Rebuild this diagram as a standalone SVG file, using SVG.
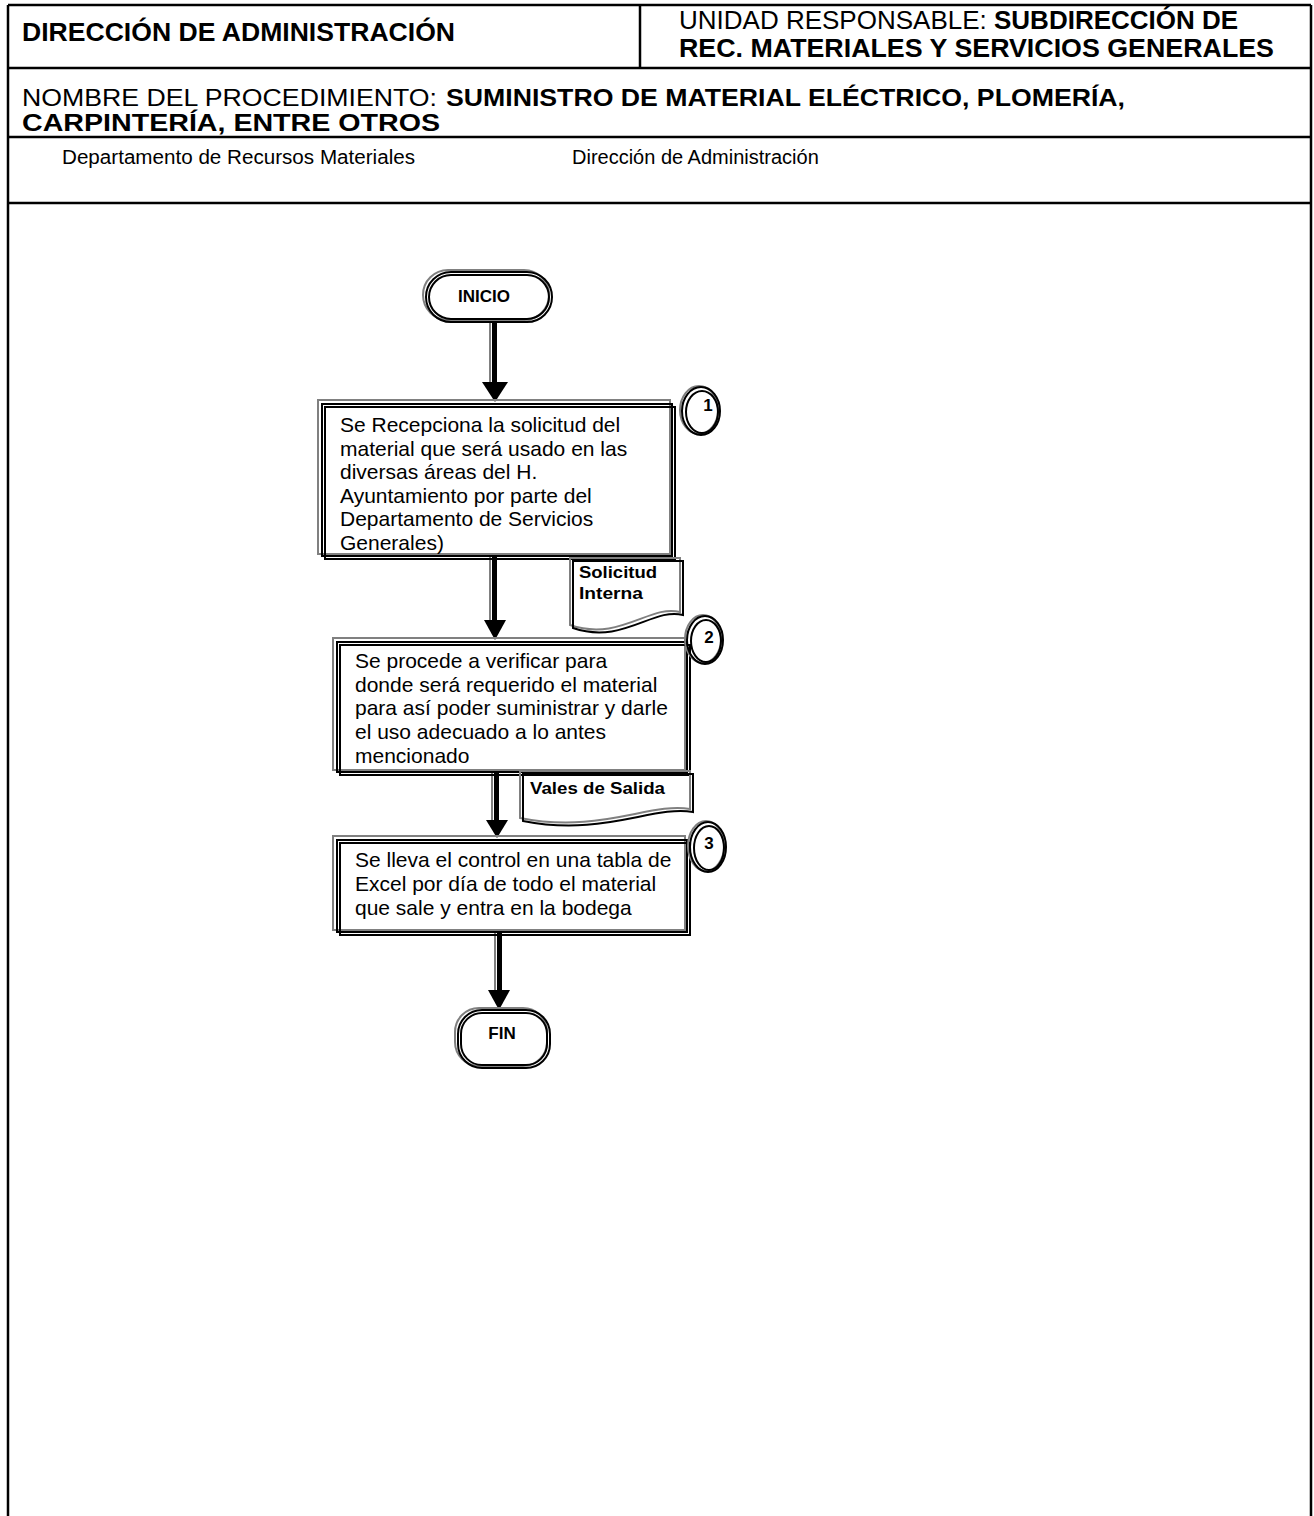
<svg xmlns="http://www.w3.org/2000/svg" width="1314" height="1516" viewBox="0 0 1314 1516">
<defs>
<style>
.frame{fill:none;stroke:#000;stroke-width:2.5}
.h{font-family:"Liberation Sans",Arial,sans-serif;font-size:26px;fill:#000}
.h2{font-family:"Liberation Sans",Arial,sans-serif;font-size:24px;fill:#000}
.b{font-weight:bold}
.lane{font-family:"Liberation Sans",Arial,sans-serif;font-size:20px;fill:#000}
.t{font-family:"Liberation Sans",Arial,sans-serif;font-size:21px;fill:#000}
.tb{font-family:"Liberation Sans",Arial,sans-serif;font-size:17px;font-weight:bold;fill:#000}
.g{fill:none;stroke:#808080;stroke-width:2}
.k{fill:none;stroke:#000;stroke-width:2}
</style>
</defs>
<rect width="1314" height="1516" fill="#fff"/>
<g id="frame">
<line class="frame" x1="8" y1="5" x2="1311" y2="5"/>
<line class="frame" x1="8" y1="68" x2="1311" y2="68"/>
<line class="frame" x1="8" y1="137" x2="1311" y2="137"/>
<line class="frame" x1="8" y1="203" x2="1311" y2="203"/>
<line class="frame" x1="8" y1="5" x2="8" y2="1516"/>
<line class="frame" x1="1311" y1="5" x2="1311" y2="1516"/>
<line class="frame" x1="640" y1="5" x2="640" y2="68"/>
<text class="h b" x="22" y="41" textLength="433" lengthAdjust="spacingAndGlyphs">DIRECCIÓN DE ADMINISTRACIÓN</text>
<text class="h" x="679" y="29">UNIDAD RESPONSABLE: <tspan class="b">SUBDIRECCIÓN DE</tspan></text>
<text class="h b" x="679" y="57" textLength="595" lengthAdjust="spacingAndGlyphs">REC. MATERIALES Y SERVICIOS GENERALES</text>
<text class="h2" x="22" y="106" textLength="415" lengthAdjust="spacingAndGlyphs">NOMBRE DEL PROCEDIMIENTO:</text>
<text class="h2 b" x="446" y="106" textLength="679" lengthAdjust="spacingAndGlyphs">SUMINISTRO DE MATERIAL ELÉCTRICO, PLOMERÍA,</text>
<text class="h2 b" x="22" y="131" textLength="418" lengthAdjust="spacingAndGlyphs">CARPINTERÍA, ENTRE OTROS</text>
<text class="lane" x="62" y="164" textLength="353" lengthAdjust="spacingAndGlyphs">Departamento de Recursos Materiales</text>
<text class="lane" x="572" y="164">Dirección de Administración</text>
</g>
<g id="connectors">
<g id="a1"><rect x="489" y="322" width="2" height="62" fill="#808080"/><rect x="492" y="322" width="5" height="62" fill="#000"/><polygon points="482,382 508,382 495,402" fill="#000"/></g>
<g id="a2"><rect x="489" y="556" width="2" height="66" fill="#808080"/><rect x="492" y="556" width="5" height="66" fill="#000"/><polygon points="484,620 506,620 495,640" fill="#000"/></g>
<g id="a3"><rect x="491" y="772" width="2" height="50" fill="#808080"/><rect x="494" y="772" width="5" height="50" fill="#000"/><polygon points="486,820 508,820 497,838" fill="#000"/></g>
<g id="a4"><rect x="494" y="932" width="2" height="60" fill="#808080"/><rect x="497" y="932" width="5" height="60" fill="#000"/><polygon points="488,990 510,990 499,1010" fill="#000"/></g>
</g>
<g id="inicio">
<rect x="423" y="270" width="126" height="50" rx="25" class="g"/>
<rect x="426" y="272" width="126" height="50" rx="25" class="k"/>
<rect x="429" y="275" width="120" height="44" rx="22" class="k" stroke-width="1"/>
<text class="tb" x="484" y="302" text-anchor="middle" font-size="19">INICIO</text>
</g>
<g id="step1">
<rect x="318" y="400" width="352" height="154" class="g"/>
<rect x="322" y="404" width="350" height="152" class="k"/>
<rect x="325" y="407" width="350" height="152" class="k" stroke-width="1.5"/>
<text class="t" x="340" y="432">Se Recepciona la solicitud del</text>
<text class="t" x="340" y="455.6">material que será usado en las</text>
<text class="t" x="340" y="479.2">diversas áreas del H.</text>
<text class="t" x="340" y="502.8">Ayuntamiento por parte del</text>
<text class="t" x="340" y="526.4">Departamento de Servicios</text>
<text class="t" x="340" y="550">Generales)</text>
</g>
<g id="c1">
<ellipse cx="699" cy="410" rx="19" ry="24" class="g"/>
<ellipse cx="701" cy="411" rx="19" ry="24" class="k"/>
<ellipse cx="702" cy="412" rx="16" ry="21" class="k" stroke-width="1"/>
<text class="tb" x="708" y="411" text-anchor="middle">1</text>
</g>
<g id="doc1">
<path d="M570,558 H680 V612 C650,604 620,642 570,625 Z" class="g"/>
<path d="M573,561 H683 V615 C653,607 623,645 573,628 Z" fill="#fff" class="k"/>
<text class="tb" x="579" y="578" textLength="78" lengthAdjust="spacingAndGlyphs">Solicitud</text>
<text class="tb" x="579" y="599" textLength="64" lengthAdjust="spacingAndGlyphs">Interna</text>
</g>
<g id="step2">
<rect x="333" y="638" width="352" height="132" class="g"/>
<rect x="337" y="642" width="350" height="130" class="k"/>
<rect x="340" y="645" width="350" height="130" class="k" stroke-width="1.5"/>
<text class="t" x="355" y="668">Se procede a verificar para</text>
<text class="t" x="355" y="691.7">donde será requerido el material</text>
<text class="t" x="355" y="715.4">para así poder suministrar y darle</text>
<text class="t" x="355" y="739">el uso adecuado a lo antes</text>
<text class="t" x="355" y="762.7">mencionado</text>
</g>
<g id="c2">
<ellipse cx="703" cy="639" rx="18" ry="24" class="g"/>
<ellipse cx="705" cy="640" rx="18" ry="24" class="k"/>
<ellipse cx="706" cy="641" rx="15" ry="21" class="k" stroke-width="1"/>
<text class="tb" x="709" y="643" text-anchor="middle">2</text>
</g>
<g id="doc2">
<path d="M520,771 H690 V809 C650,802 600,834 520,818 Z" class="g"/>
<path d="M523,774 H693 V812 C653,805 603,837 523,821 Z" fill="#fff" class="k"/>
<text class="tb" x="530" y="794" textLength="135" lengthAdjust="spacingAndGlyphs">Vales de Salida</text>
</g>
<g id="step3">
<rect x="333" y="836" width="352" height="94" class="g"/>
<rect x="337" y="840" width="350" height="92" class="k"/>
<rect x="340" y="843" width="350" height="92" class="k" stroke-width="1.5"/>
<text class="t" x="355" y="867">Se lleva el control en una tabla de</text>
<text class="t" x="355" y="891">Excel por día de todo el material</text>
<text class="t" x="355" y="915">que sale y entra en la bodega</text>
</g>
<g id="c3">
<ellipse cx="706" cy="846" rx="18" ry="25" class="g"/>
<ellipse cx="708" cy="847" rx="18" ry="25" class="k"/>
<ellipse cx="709" cy="848" rx="15" ry="22" class="k" stroke-width="1"/>
<text class="tb" x="709" y="849" text-anchor="middle">3</text>
</g>
<g id="fin">
<rect x="455" y="1008" width="92" height="58" rx="24" class="g"/>
<rect x="458" y="1010" width="92" height="58" rx="24" class="k"/>
<rect x="461" y="1013" width="86" height="52" rx="21" class="k" stroke-width="1"/>
<text class="tb" x="502" y="1039" text-anchor="middle" font-size="19">FIN</text>
</g>
</svg>
